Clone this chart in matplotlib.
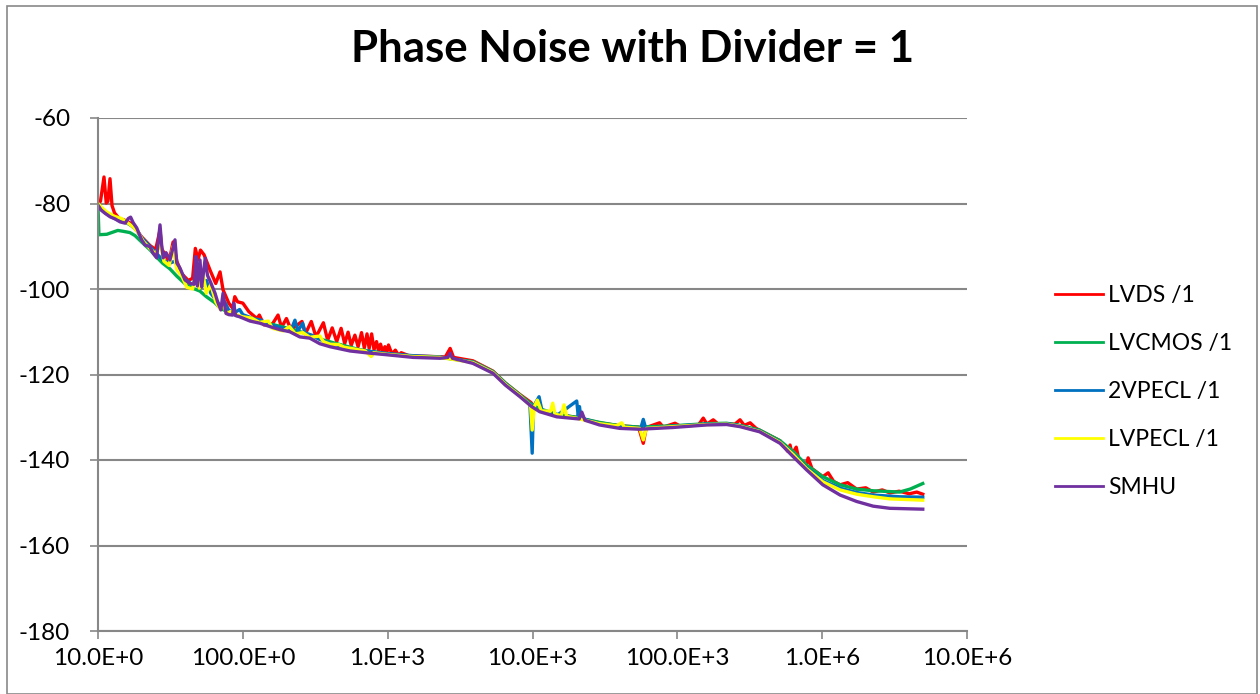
import numpy as np
import matplotlib
matplotlib.use("Agg")
import matplotlib.pyplot as plt
from matplotlib.patches import Rectangle

plt.rcParams['font.family'] = ['Lato', 'DejaVu Sans']
plt.rcParams['axes.unicode_minus'] = False

# series values (frequency in Hz, phase noise in dBc/Hz)
lvds_f = [10, 10.4, 11.0, 11.4, 11.7, 12.1, 12.5, 13.0, 14, 15, 16, 17.5, 18.5, 20, 22.8, 25,
          26.8, 27.5, 29, 31, 33, 35, 38, 42, 45, 47, 49, 51, 54, 59.4, 65, 69.6, 73, 80, 85,
          88, 92, 100, 110, 125, 130, 140, 160, 175, 185, 200, 215, 256, 270, 297, 320, 360,
          385, 414, 445, 477, 505, 533, 560, 594, 625, 660, 690, 720, 745, 775, 805, 838, 865,
          893, 925, 957, 985, 1013, 1070, 1130, 1190, 1240, 1400, 2000, 2500, 2700, 2850, 3880,
          5330, 6500, 8200, 9800, 10100, 11200, 14700, 20000, 29000, 40000, 54000, 58200, 61000,
          75400, 80000, 85000, 96400, 105000, 140000, 151000, 160000, 177000, 190000, 250000,
          271000, 290000, 318000, 350000, 450000, 512000, 580000, 600000, 620000, 662000,
          690000, 780000, 800000, 850000, 1.01e6, 1.1e6, 1.2e6, 1.33e6, 1.5e6, 1.73e6, 2.0e6,
          2.25e6, 2.6e6, 2.93e6, 3.4e6, 4.0e6, 4.5e6, 4.95e6]
lvds_db = [-80.0, -79.5, -73.8, -79.9, -79.5, -74.2, -80.5, -82.2, -83.5, -83.8, -84.2, -85.0,
           -86.3, -87.8, -89.8, -90.8, -86.2, -90.5, -92.0, -93.5, -89.0, -93.5, -96.5, -98.0,
           -97.5, -90.5, -93.2, -90.9, -92.0, -95.6, -98.7, -96.0, -100.2, -103.3, -104.5,
           -101.8, -103.0, -103.3, -105.3, -106.9, -106.1, -108.4, -108.2, -106.1, -109.0,
           -106.9, -109.5, -107.6, -110.5, -107.6, -111.2, -107.9, -112.0, -109.1, -112.3,
           -109.2, -112.8, -110.1, -113.2, -110.8, -113.5, -110.2, -113.8, -110.5, -113.9,
           -110.5, -114.2, -112.3, -114.5, -112.9, -114.8, -113.5, -115.0, -113.1, -115.2,
           -114.3, -115.5, -114.9, -115.6, -115.8, -115.9, -113.9, -116.0, -116.8, -119.2,
           -122.0, -124.7, -126.6, -127.8, -128.2, -129.4, -130.0, -131.3, -132.0, -132.3,
           -136.1, -132.4, -131.3, -132.3, -132.0, -131.4, -132.1, -131.8, -130.2, -131.6,
           -130.6, -131.5, -131.6, -130.6, -131.9, -131.3, -132.6, -134.5, -135.5, -138.0,
           -136.5, -138.6, -137.0, -139.8, -141.0, -139.5, -142.0, -143.9, -143.0, -145.0,
           -145.8, -145.3, -146.8, -146.5, -147.5, -147.0, -147.7, -147.3, -147.9, -147.5,
           -148.0]

lvcmos_f = [10, 10.15, 11.5, 13.7, 14.9, 16.6, 18, 20, 22.8, 25, 28, 31.4, 35, 40, 45, 50.6,
            56, 64, 70, 80, 90, 100, 130, 180, 250, 340, 470, 640, 1000, 1500, 2300, 3880,
            5330, 6500, 8200, 9860, 11200, 14700, 20000, 29000, 40000, 54800, 93000, 160000,
            219000, 271000, 370000, 512000, 630000, 780000, 1.01e6, 1.33e6, 1.73e6, 2.25e6,
            3.42e6, 4.05e6, 4.95e6]
lvcmos_db = [-80.5, -87.3, -87.2, -86.3, -86.5, -86.8, -87.5, -89.0, -90.8, -92.3, -94.0,
             -95.3, -97.0, -98.8, -99.8, -100.5, -101.8, -103.2, -104.5, -105.5, -106.2,
             -106.6, -107.6, -108.7, -110.0, -111.7, -113.0, -114.2, -115.2, -115.8, -116.0,
             -117.0, -119.3, -122.0, -124.8, -127.0, -128.0, -129.3, -130.0, -131.2, -132.0,
             -132.3, -132.0, -131.5, -131.4, -131.9, -133.0, -135.5, -138.0, -141.2, -143.9,
             -145.8, -146.8, -147.2, -147.5, -146.8, -145.5]

vpecl2_f = [10, 11, 12.5, 14, 15.4, 17, 18.5, 20, 22.8, 25, 28, 31, 34, 37, 40, 45, 48, 52,
            56, 60, 65, 70, 75, 80, 88, 95, 100, 120, 131, 150, 180, 215, 229, 240, 259, 270,
            300, 340, 400, 550, 750, 1000, 1500, 2300, 3880, 5330, 6500, 8200, 9600, 9950,
            10150, 11100, 11600, 14700, 20200, 20700, 21100, 21600, 29000, 40000, 56000,
            58200, 60500, 93000, 160000, 219000, 271000, 370000, 512000, 630000, 780000,
            1.01e6, 1.33e6, 1.73e6, 2.25e6, 3.42e6, 4.95e6]
vpecl2_db = [-80.8, -82.0, -83.2, -84.0, -84.3, -85.2, -86.2, -88.0, -90.0, -91.5, -93.2,
             -94.0, -93.5, -96.0, -97.8, -99.0, -97.0, -99.5, -98.0, -101.0, -102.5, -104.0,
             -103.0, -105.0, -105.5, -104.8, -106.0, -107.0, -107.2, -108.2, -109.0, -109.6,
             -107.3, -109.8, -108.0, -110.3, -110.8, -111.8, -112.7, -113.9, -114.6, -115.1,
             -115.6, -115.9, -117.1, -119.4, -122.2, -125.0, -127.0, -138.4, -127.5, -125.2,
             -128.3, -129.6, -126.2, -129.8, -127.5, -130.2, -131.5, -132.2, -132.5, -130.5,
             -132.6, -132.1, -131.6, -131.5, -132.0, -133.2, -135.8, -138.5, -141.8, -144.8,
             -146.6, -147.6, -148.2, -148.6, -148.7]

lvpecl_f = [10, 10.5, 11.5, 13, 14.5, 16, 17.5, 19, 20.5, 22.8, 25, 27, 28.5, 31, 33, 35, 38,
            41, 45, 48, 50, 53, 56, 60, 65, 70, 73, 77, 83, 90, 100, 115, 130, 150, 160, 190,
            210, 230, 260, 290, 340, 360, 400, 460, 500, 700, 770, 800, 1000, 1500, 2300, 3880,
            5330, 6500, 8200, 9700, 9950, 10300, 10800, 11500, 13300, 13800, 14300, 15800,
            16500, 17200, 20000, 29000, 38000, 41300, 43000, 55000, 58200, 61000, 93000,
            160000, 219000, 271000, 370000, 512000, 630000, 780000, 1.01e6, 1.33e6, 1.73e6,
            2.25e6, 2.93e6, 4.95e6]
lvpecl_db = [-80.0, -80.8, -82.0, -83.0, -83.5, -84.5, -85.5, -86.8, -88.8, -90.5, -91.8,
             -89.5, -93.5, -94.5, -90.0, -95.5, -97.0, -99.6, -100.0, -95.5, -99.8, -96.5,
             -101.0, -99.0, -103.0, -104.8, -103.0, -105.8, -105.2, -106.0, -106.5, -106.8,
             -107.8, -107.5, -109.2, -109.8, -108.8, -110.5, -110.2, -111.3, -111.0, -112.3,
             -112.9, -113.0, -113.6, -114.5, -115.8, -114.9, -115.3, -115.8, -116.0, -117.2,
             -119.5, -122.3, -125.0, -127.3, -133.0, -127.5, -126.0, -128.5, -128.6, -126.7,
             -129.3, -129.6, -127.1, -129.8, -130.2, -131.5, -132.0, -131.3, -132.3, -132.6,
             -135.3, -132.6, -132.2, -131.7, -131.6, -132.1, -133.3, -135.9, -138.7, -142.0,
             -145.1, -147.0, -148.0, -148.6, -149.1, -149.4]

smhu_f = [10, 10.5, 11.2, 12.1, 13.1, 14.2, 15.4, 16.2, 16.8, 17.5, 18.5, 20.0, 21.1, 22.8,
          24.0, 25.4, 26.8, 27.5, 28.2, 29.5, 31.4, 34.0, 35.0, 36.8, 39.9, 43.2, 46.0, 47.5,
          48.5, 50.6, 52.0, 55.0, 57.0, 60.0, 64.3, 67.0, 70.5, 73.0, 76.5, 80.0, 85.0, 86.5,
          89.0, 95.0, 112, 131, 154, 180, 211, 247, 290, 340, 400, 550, 750, 1000, 1500, 2300,
          2600, 2700, 2800, 3880, 5330, 6500, 8200, 9860, 11200, 14700, 19500, 21000, 21900,
          23000, 29000, 40000, 54800, 93000, 160000, 219000, 271000, 370000, 512000, 630000,
          780000, 1.01e6, 1.33e6, 1.73e6, 2.25e6, 2.93e6, 4.95e6]
smhu_db = [-80.4, -81.5, -82.3, -83.1, -83.6, -84.3, -84.6, -83.5, -83.2, -84.5, -85.7, -88.5,
           -89.7, -90.1, -91.6, -92.7, -85.0, -89.7, -92.7, -91.5, -93.2, -88.5, -93.9, -95.1,
           -97.9, -98.7, -98.9, -92.4, -99.3, -93.2, -99.5, -92.8, -96.8, -98.5, -101.0,
           -103.0, -104.9, -101.0, -105.7, -106.0, -106.1, -103.3, -106.2, -106.5, -107.5,
           -108.0, -108.8, -109.5, -110.0, -111.2, -111.5, -112.8, -113.5, -114.5, -115.0,
           -115.4, -116.0, -116.2, -116.0, -115.0, -116.2, -117.4, -119.7, -122.5, -125.2,
           -127.5, -128.7, -129.9, -130.3, -130.4, -128.8, -130.7, -131.8, -132.6, -132.8,
           -132.4, -131.8, -131.7, -132.2, -133.4, -136.1, -139.2, -142.3, -145.8, -148.2,
           -149.7, -150.8, -151.3, -151.5]

series = [
    ("LVDS /1", lvds_f, lvds_db, "#FF0000"),
    ("LVCMOS /1", lvcmos_f, lvcmos_db, "#00B050"),
    ("2VPECL /1", vpecl2_f, vpecl2_db, "#0070C0"),
    ("LVPECL /1", lvpecl_f, lvpecl_db, "#FFFF00"),
    ("SMHU", smhu_f, smhu_db, "#7030A0"),
]

xticks = [1e1, 1e2, 1e3, 1e4, 1e5, 1e6, 1e7]
xtick_labels = ["10.0E+0", "100.0E+0", "1.0E+3", "10.0E+3", "100.0E+3", "1.0E+6", "10.0E+6"]
yticks = [-180, -160, -140, -120, -100, -80, -60]

fig = plt.figure(figsize=(12.6, 6.94), dpi=100)
ax = fig.add_axes([98 / 1260, 1 - 631 / 694, (967 - 98) / 1260, (631 - 118) / 694])

for name, f, db, col in series:
    ax.plot(f, db, color=col, linewidth=2.4, label=name, solid_joinstyle='round')

ax.set_xscale('log')
ax.set_xlim(1e1, 1e7)
ax.set_ylim(-180, -60)
ax.set_xticks(xticks)
ax.set_xticklabels(xtick_labels)
ax.xaxis.set_minor_locator(matplotlib.ticker.NullLocator())
ax.set_yticks(yticks)
ax.grid(axis='y', color='#878787', linewidth=1.5)
ax.set_axisbelow(True)
for side in ['top', 'right']:
    ax.spines[side].set_visible(False)
for side in ['left', 'bottom']:
    ax.spines[side].set_color('#878787')
    ax.spines[side].set_linewidth(1.5)
ax.tick_params(axis='both', colors='#878787', labelcolor='black', labelsize=17.5,
               length=6, width=1.2, direction='out')
ax.tick_params(axis='x', pad=6)
ax.tick_params(axis='y', pad=14)

fig.text(633 / 1260, 1 - 49 / 694, "Phase Noise with Divider = 1", ha='center', va='center',
         fontsize=31.5, fontweight='bold')

leg = fig.legend(handles=[plt.Line2D([], [], color=s[3], linewidth=2) for s in series],
                 labels=[s[0] for s in series], loc='center left',
                 bbox_to_anchor=(1055 / 1260, 1 - 391.5 / 694), frameon=False, fontsize=16.5,
                 handlelength=2.1, handletextpad=0.2, labelspacing=1.18, borderpad=0,
                 borderaxespad=0)

fig.patches.append(Rectangle((7 / 1260, 0), 1250 / 1260, 1 - 6 / 694, transform=fig.transFigure,
                             fill=False, edgecolor='#898989', linewidth=1.2))

fig.savefig("out.png", dpi=100)
